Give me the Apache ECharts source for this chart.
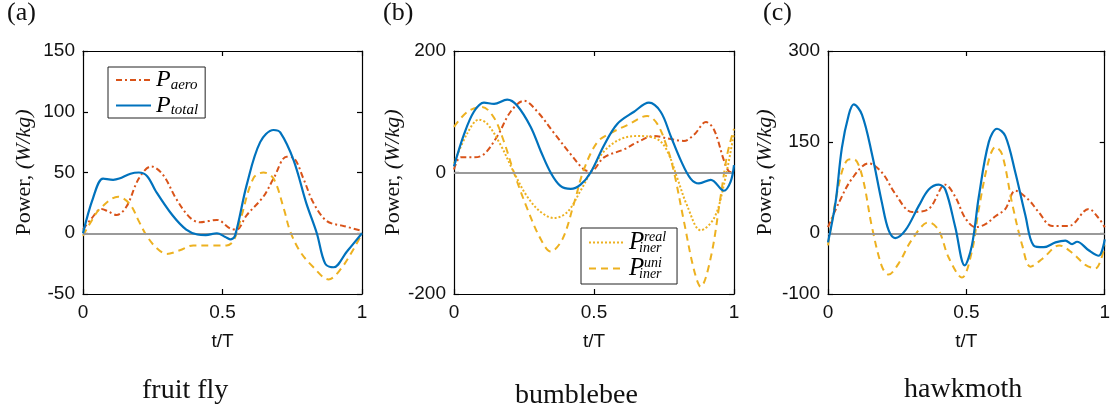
<!DOCTYPE html>
<html><head><meta charset="utf-8">
<script src="https://cdn.jsdelivr.net/npm/echarts@6/dist/echarts.min.js"></script>
<style>html,body{margin:0;padding:0;background:#fff}#c{width:1113px;height:412px}</style>
</head><body><div id="c"></div>
<script>
// ---- text ----
const panelLabels = ['(a)', '(b)', '(c)'];
const insects = ['fruit fly', 'bumblebee', 'hawkmoth'];
const xName = 't/T';
// ---- ticks ----
const tTicks = [0, 0.5, 1];
const flyYTicks = [-50, 0, 50, 100, 150];
const beeYTicks = [-200, 0, 200];
const mothYTicks = [-100, 0, 150, 300];
// ---- data: [t/T, power W/kg] ----
const flyAero = [[0,3],[0.03,12],[0.066,20],[0.09,18],[0.12,15],[0.156,22],[0.2,45],[0.245,55],[0.287,48],[0.335,28],[0.383,13],[0.42,9],[0.45,10],[0.48,11],[0.527,4],[0.55,3],[0.587,15],[0.646,30],[0.683,45],[0.73,63],[0.755,62],[0.79,45],[0.826,25],[0.874,10],[0.934,6],[1,2]];
const flyIner = [[0,-2],[0.03,10],[0.06,20],[0.126,30],[0.168,24],[0.2,10],[0.228,-2],[0.263,-12],[0.3,-17],[0.347,-14],[0.395,-10],[0.467,-10],[0.515,-10],[0.54,-6],[0.563,10],[0.61,45],[0.647,50],[0.683,45],[0.72,20],[0.742,2],[0.778,-15],[0.826,-28],[0.88,-38],[0.922,-30],[0.97,-13],[1,0]];
const flyTotal = [[0,0],[0.036,29],[0.072,45],[0.108,44],[0.13,45],[0.17,49],[0.2,50],[0.23,47],[0.26,35],[0.32,15],[0.37,3],[0.41,-1],[0.44,-1.5],[0.48,0],[0.51,-3],[0.53,-5],[0.545,-2],[0.587,40],[0.635,75],[0.683,85],[0.707,83],[0.755,60],[0.8,25],[0.838,0],[0.868,-25],[0.898,-28],[0.946,-15],[1,0]];

const beeAero = [[0,5],[0.024,25],[0.071,25],[0.107,30],[0.155,60],[0.202,100],[0.25,118],[0.298,100],[0.357,65],[0.417,30],[0.464,5],[0.488,2],[0.536,25],[0.607,38],[0.655,50],[0.714,60],[0.774,55],[0.821,52],[0.857,62],[0.9,83],[0.929,70],[0.964,20],[0.982,2],[1,0]];
const beeReal = [[0,15],[0.048,65],[0.089,87],[0.119,80],[0.167,45],[0.214,0],[0.262,-40],[0.31,-65],[0.357,-75],[0.405,-65],[0.452,-30],[0.488,0],[0.536,35],[0.595,55],[0.655,60],[0.726,55],[0.762,35],[0.798,-10],[0.833,-55],[0.881,-95],[0.929,-75],[0.964,-20],[1,65]];
const beeUni = [[0,75],[0.048,100],[0.1,108],[0.143,90],[0.179,50],[0.214,0],[0.262,-60],[0.31,-110],[0.345,-130],[0.387,-110],[0.429,-50],[0.464,5],[0.512,50],[0.56,65],[0.619,78],[0.69,93],[0.726,80],[0.762,40],[0.786,0],[0.821,-80],[0.857,-160],[0.881,-188],[0.917,-140],[0.952,-40],[0.976,30],[1,72]];
const beeTotal = [[0,10],[0.036,63],[0.071,100],[0.107,115],[0.143,113],[0.19,120],[0.226,110],[0.274,75],[0.31,35],[0.345,0],[0.38,-22],[0.417,-27],[0.452,-20],[0.488,0],[0.536,45],[0.583,80],[0.643,100],[0.696,115],[0.738,100],[0.774,60],[0.81,20],[0.845,-10],[0.875,-18],[0.917,-12],[0.964,-30],[0.988,-15],[1,12]];

const mothAero = [[0,10],[0.039,50],[0.087,90],[0.147,115],[0.195,100],[0.243,65],[0.304,35],[0.364,40],[0.424,80],[0.46,60],[0.496,25],[0.533,10],[0.569,15],[0.605,28],[0.641,40],[0.677,70],[0.725,55],[0.761,35],[0.81,12],[0.87,12],[0.942,40],[0.978,25],[1,10]];
const mothIner = [[0,-20],[0.039,80],[0.069,120],[0.093,122],[0.123,95],[0.159,10],[0.195,-55],[0.219,-68],[0.255,-50],[0.304,-10],[0.364,18],[0.4,5],[0.436,-40],[0.484,-73],[0.52,-30],[0.545,40],[0.581,120],[0.605,142],[0.629,130],[0.665,50],[0.702,-20],[0.732,-55],[0.775,-42],[0.836,-20],[0.882,-32],[0.93,-52],[0.966,-58],[1,-20]];
const mothTotal = [[0,-15],[0.027,50],[0.05,140],[0.075,195],[0.093,212],[0.123,195],[0.159,130],[0.195,50],[0.219,5],[0.243,-8],[0.28,5],[0.328,45],[0.364,72],[0.4,80],[0.424,72],[0.46,10],[0.494,-53],[0.52,-20],[0.545,60],[0.581,150],[0.611,172],[0.641,160],[0.677,100],[0.713,30],[0.743,-20],[0.78,-23],[0.822,-15],[0.858,-12],[0.882,-18],[0.9,-14],[0.942,-28],[0.978,-37],[1,-10]];

// ---- styling ----
const BLUE = '#0072BD', ORANGE = '#D95319', YELLOW = '#EDB120', GREY = '#9a9a9a';
const SANS = 'Liberation Sans', SERIF = 'Liberation Serif';
const grids = [
  {left: 83, top: 51, width: 279, height: 243},
  {left: 454, top: 51, width: 280, height: 243},
  {left: 828, top: 51, width: 277, height: 243}
];
const yRanges = [[-50, 150, flyYTicks], [-200, 200, beeYTicks], [-100, 300, mothYTicks]];
const nameGaps = [48, 50, 52];

const xAxis = [], yAxis = [];
grids.forEach((g, i) => {
  const axLine = {show: true, onZero: false, lineStyle: {color: '#000', width: 1.2}};
  const tick = t => ({inside: true, length: 5, customValues: t, lineStyle: {color: '#000', width: 1.2}});
  xAxis.push({type: 'value', gridIndex: i, min: 0, max: 1, position: 'bottom',
    axisLine: axLine, splitLine: {show: false}, axisTick: tick(tTicks),
    axisLabel: {customValues: tTicks, color: '#111', fontFamily: SANS, fontSize: 19, margin: 9},
    name: xName, nameLocation: 'middle', nameGap: 38,
    nameTextStyle: {color: '#111', fontFamily: SANS, fontSize: 19}});
  xAxis.push({type: 'value', gridIndex: i, min: 0, max: 1, position: 'top',
    axisLine: axLine, splitLine: {show: false}, axisTick: tick(tTicks),
    axisLabel: {show: false}});
  const [mn, mx, ticks] = yRanges[i];
  yAxis.push({type: 'value', gridIndex: i, min: mn, max: mx, position: 'left',
    axisLine: axLine, splitLine: {show: false}, axisTick: tick(ticks),
    axisLabel: {customValues: ticks, color: '#111', fontFamily: SANS, fontSize: 19, margin: 8},
    name: '{r|Power, }{i|(W/kg)}', nameLocation: 'middle', nameRotate: 90, nameGap: nameGaps[i],
    nameTextStyle: {rich: {
      r: {fontFamily: SERIF, fontSize: 22, color: '#111'},
      i: {fontFamily: SERIF, fontSize: 22, fontStyle: 'italic', color: '#111'}}}});
  yAxis.push({type: 'value', gridIndex: i, min: mn, max: mx, position: 'right',
    axisLine: axLine, splitLine: {show: false}, axisTick: tick(ticks),
    axisLabel: {show: false}});
});

function line(name, i, data, color, type, width, z) {
  return {type: 'line', name, xAxisIndex: 2 * i, yAxisIndex: 2 * i, data,
    showSymbol: false, symbol: 'none', smooth: 0.35, z, silent: true,
    lineStyle: {color, type, width}, itemStyle: {color}};
}
const DASHDOT = [6, 3, 2, 3], DASH = [7, 5], DOT = [2, 2];
const zeroLine = {silent: true, symbol: 'none', label: {show: false},
  lineStyle: {color: GREY, type: 'solid', width: 2}, data: [{yAxis: 0}]};
const series = [];
[[flyAero, flyIner, null, flyTotal], [beeAero, beeReal, beeUni, beeTotal], [mothAero, mothIner, null, mothTotal]].forEach((s, i) => {
  const tag = ['a', 'b', 'c'][i];
  const aero = line('aero-' + tag, i, s[0], ORANGE, DASHDOT, 2, 3);
  aero.markLine = zeroLine;
  series.push(aero);
  if (i === 1) {
    series.push(line('real-b', i, s[1], YELLOW, DOT, 2, 4));
    series.push(line('uni-b', i, s[2], YELLOW, DASH, 2, 4));
  } else {
    series.push(line('iner-' + tag, i, s[1], YELLOW, DASH, 2, 4));
  }
  series.push(line('total-' + tag, i, s[3], BLUE, 'solid', 2.2, 5));
});

const legendBase = {orient: 'vertical', backgroundColor: '#fff', borderColor: '#222', borderWidth: 1,
  itemWidth: 35, itemHeight: 14, selectedMode: false, itemStyle: {opacity: 0}};
const legends = [
  Object.assign({}, legendBase, {left: 108, top: 67, padding: [1, 7, 0, 7], itemGap: 1,
    data: ['aero-a', 'total-a'],
    formatter: n => n === 'aero-a' ? '{p|P}{s|aero}' : '{p|P}{s|total}',
    textStyle: {rich: {
      p: {fontFamily: SERIF, fontStyle: 'italic', fontSize: 24, color: '#000'},
      s: {fontFamily: SERIF, fontStyle: 'italic', fontSize: 15, color: '#000', padding: [10, 0, 0, 0]}}}}),
  Object.assign({}, legendBase, {left: 581, top: 228, padding: [2, 11, 3, 7], itemGap: 1,
    data: ['real-b', 'uni-b'],
    formatter: n => '{g1| }{sup|' + (n === 'real-b' ? 'real' : 'uni') + '}\n{p|P}\n{g2| }{sub|iner}',
    textStyle: {rich: {
      p: {fontFamily: SERIF, fontStyle: 'italic', fontSize: 25, color: '#000', lineHeight: 4},
      sup: {fontFamily: SERIF, fontStyle: 'italic', fontSize: 14, color: '#000', lineHeight: 7},
      g1: {fontSize: 14, width: 15, lineHeight: 7},
      g2: {fontSize: 14, width: 10, lineHeight: 7},
      sub: {fontFamily: SERIF, fontStyle: 'italic', fontSize: 14, color: '#000', lineHeight: 7}}}})
];

const titles = [];
const labelLefts = [7, 383, 763];
const capLefts = [142, 515, 904];
const capTops = [377, 382, 376];
panelLabels.forEach((t, i) => titles.push({text: t, left: labelLefts[i], top: 0, padding: 0,
  textStyle: {fontFamily: SERIF, fontSize: 26, fontWeight: 'normal', color: '#111'}}));
insects.forEach((t, i) => titles.push({text: t, left: capLefts[i], top: capTops[i], padding: 0,
  textStyle: {fontFamily: SERIF, fontSize: 28, fontWeight: 'normal', color: '#111'}}));

const chart = echarts.init(document.getElementById('c'), null, {renderer: 'canvas'});
chart.setOption({backgroundColor: '#fff', animation: false, title: titles, grid: grids,
  xAxis, yAxis, legend: legends, series});
</script></body></html>
